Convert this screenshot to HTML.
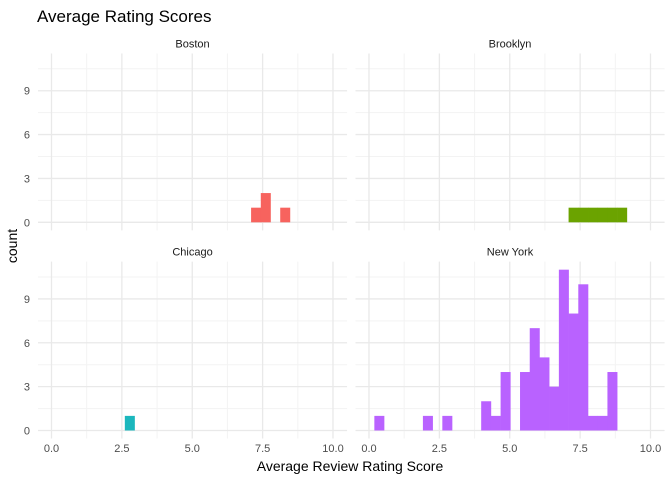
<!DOCTYPE html>
<html><head><meta charset="utf-8"><style>
body{margin:0;background:#fff;}
svg{display:block;font-family:"Liberation Sans",sans-serif;}
</style></head><body>
<svg id="chart" width="672" height="480">
<text x="37" y="22" font-size="17" fill="#000">Average Rating Scores</text>
<text x="350" y="471" font-size="14" text-anchor="middle" fill="#000">Average Review Rating Score</text>
<text transform="translate(17,246) rotate(-90)" font-size="14" text-anchor="middle" fill="#000">count</text>
</svg>
<script>
const facets = ["Boston", "Brooklyn", "Chicago", "New York"];
const colors = ["#f7635e", "#6ba300", "#1bb7bd", "#b962ff"];
const binStart = 0.19;
const binWidth = 0.345;
// counts per bin index, per facet: [binIndex, count]
const bostonBins = [[20,1],[21,2],[23,1]];
const brooklynBins = [[20,1],[21,1],[22,1],[23,1],[24,1],[25,1]];
const chicagoBins = [[7,1]];
const newYorkBins = [[0,1],[5,1],[7,1],[11,2],[12,1],[13,4],[15,4],[16,7],[17,5],[18,3],[19,11],[20,8],[21,10],[22,1],[23,1],[24,4]];
const xTicks = [0, 2.5, 5, 7.5, 10];
const xTickLabels = ["0.0", "2.5", "5.0", "7.5", "10.0"];
const yTicks = [0, 3, 6, 9];

const svg = document.getElementById('chart');
const NS = 'http://www.w3.org/2000/svg';
const allBins = [bostonBins, brooklynBins, chicagoBins, newYorkBins];
const panels = [
  {x0:51.5, y0:222.3},
  {x0:369, y0:222.3},
  {x0:51.5, y0:430.5},
  {x0:369, y0:430.5}
];
const pxPerX = 28.15, pxPerY = 14.62;
function mk(tag, attrs){const e=document.createElementNS(NS,tag);for(const k in attrs)e.setAttribute(k,attrs[k]);svg.appendChild(e);return e;}

panels.forEach((p, i) => {
  const sx = v => p.x0 + v*pxPerX;
  const sy = v => p.y0 - v*pxPerY;
  const left = sx(-0.48), right = sx(10.5), top = sy(11.55), bottom = sy(-0.55);
  // minor grid
  for (let k=0;k<4;k++){ const v=xTicks[k]+1.25;
    const l=mk('line',{x1:sx(v),x2:sx(v),y1:top,y2:bottom,stroke:'#f3f3f3','stroke-width':1});
    
    
  }
  [1.5,4.5,7.5,10.5].forEach(v=>{
    const l=mk('line',{x1:left,x2:right,y1:sy(v),y2:sy(v),stroke:'#f3f3f3','stroke-width':1});
    
    
  });
  xTicks.forEach(v=>{
    const l=mk('line',{x1:sx(v),x2:sx(v),y1:top,y2:bottom,stroke:'#e9e9e9','stroke-width':1.3});
    
    
  });
  yTicks.forEach(v=>{
    const l=mk('line',{x1:left,x2:right,y1:sy(v),y2:sy(v),stroke:'#e9e9e9','stroke-width':1.3});
    
    
  });
  // strip
  const st=mk('text',{x:(left+right)/2,y:top-6,'font-size':11,'text-anchor':'middle',fill:'#1a1a1a'});
  st.textContent=facets[i];
  
  
  // bars
  allBins[i].forEach(b=>{
    const x1=binStart+b[0]*binWidth;
    const r=mk('rect',{x:sx(x1),y:sy(b[1]),width:binWidth*pxPerX+0.3,height:b[1]*pxPerY,fill:colors[i]});
    
    
  });
  // y labels (left column)
  if (i%2===0) yTicks.forEach(v=>{
    const t=mk('text',{x:30,y:sy(v)+4,'font-size':11,'text-anchor':'end',fill:'#4d4d4d'});
    t.textContent=v;
    
    
  });
  if (i>=2) xTicks.forEach((v,k)=>{
    const t=mk('text',{x:sx(v),y:452,'font-size':11,'text-anchor':'middle',fill:'#4d4d4d'});
    t.textContent=xTickLabels[k];
    
    
  });
});
</script>
</body></html>
